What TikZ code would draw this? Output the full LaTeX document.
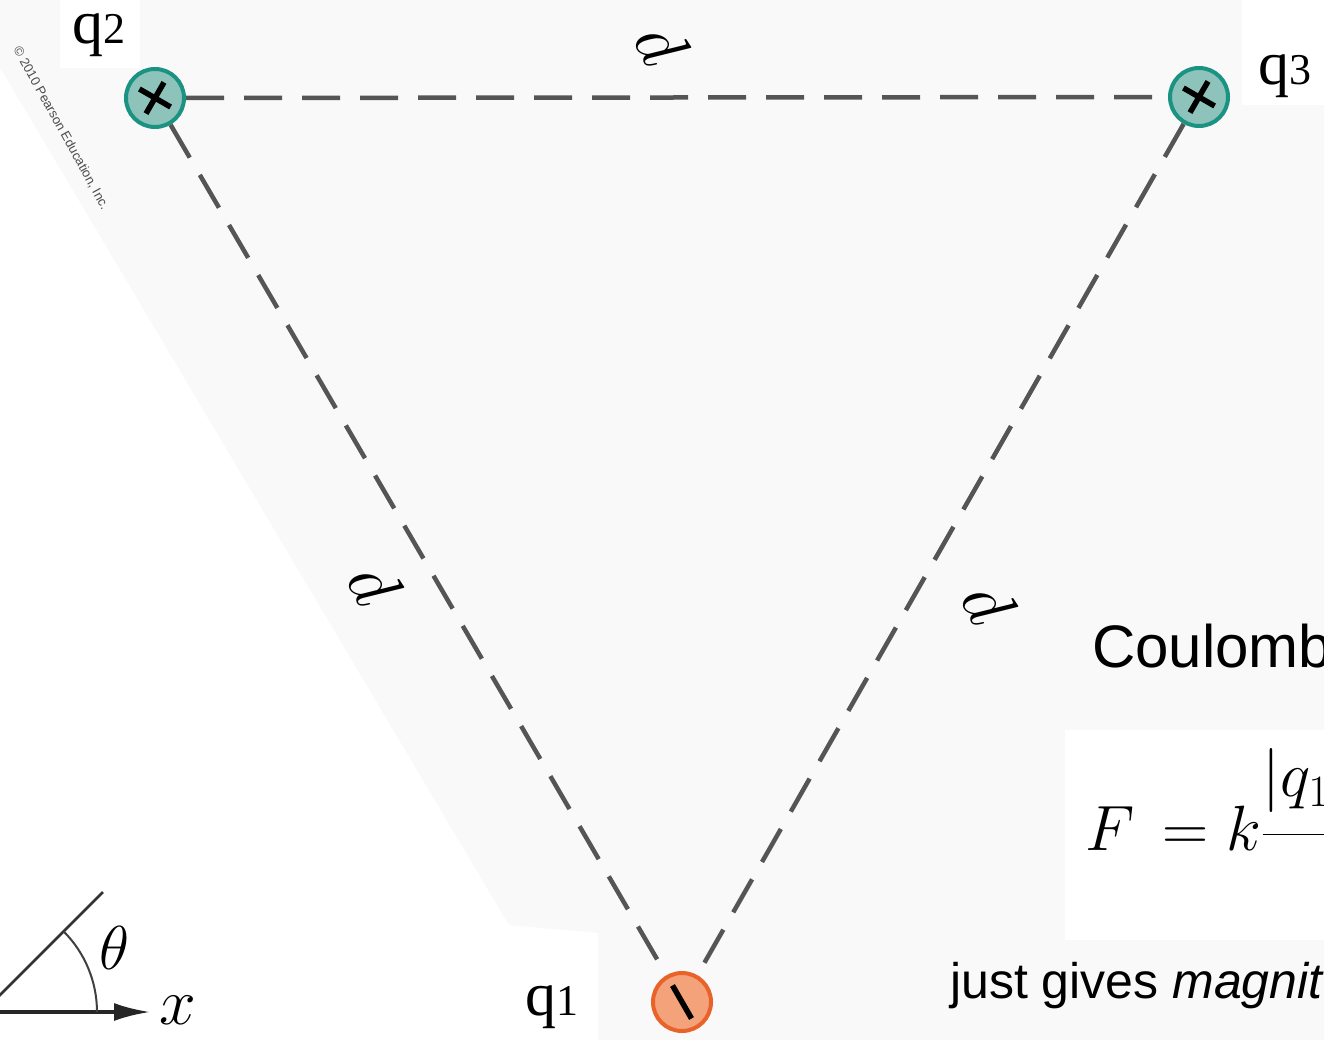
\RequirePackage{fix-cm}
\documentclass[tikz,border=0pt]{standalone}
\usepackage{amsmath}
\usepackage{fontspec}
\newfontfamily\serifq{Liberation Serif}
\newfontfamily\sansa{Liberation Sans}
\usetikzlibrary{arrows.meta,calc}
\definecolor{tealfill}{HTML}{8EC3BB}
\definecolor{tealedge}{HTML}{1B9383}
\definecolor{orfill}{HTML}{F3A27A}
\definecolor{oredge}{HTML}{E8622A}
\definecolor{dashgrey}{HTML}{555555}
\definecolor{bggrey}{HTML}{F9F9F9}
\begin{document}
\begin{tikzpicture}[x=1pt,y=-1pt,
  poscharge/.style={circle, draw=tealedge, fill=tealfill, line width=4pt, minimum size=58pt, inner sep=0pt},
  negcharge/.style={circle, draw=oredge, fill=orfill, line width=4pt, minimum size=58pt, inner sep=0pt},
  dashline/.style={draw=dashgrey, line width=4.5pt, dash pattern=on 38pt off 20pt},
  qlabel/.style={font=\serifq\fontsize{62}{62}\selectfont, inner sep=0pt, anchor=base west},
  dlabel/.style={font=\fontsize{70}{70}\selectfont, rotate=-62, inner sep=0pt},
  signstroke/.style={line width=5.5pt, black},
  sidetext/.style={inner sep=0pt, anchor=base west}]
\useasboundingbox (0,0) rectangle (1324,1040);
\clip (0,0) rectangle (1324,1040);
% background
\fill[white] (0,0) rectangle (1324,1040);
\fill[bggrey] (-40,0) -- (1324,0) -- (1324,1040) -- (598,1040) -- (598,933) -- (509,925) -- cycle;
\fill[white] (60,0) rectangle (140,68);
\fill[white] (1242,0) rectangle (1324,105);
\fill[white] (1065,730) rectangle (1324,940);
% charges
\node[poscharge] (q2) at (155,98) {};
\node[poscharge] (q3) at (1199,97) {};
\node[negcharge] (q1) at (682,1002) {};
% dashed sides
\draw[dashline] (q2) -- (q3);
\draw[dashline] (q2) -- (q1);
\draw[dashline] (q3) -- (q1);
% signs
\draw[signstroke] ($(q2)+(-15.6,-9)$) -- ($(q2)+(15.6,9)$);
\draw[signstroke] ($(q2)+(-9,15.6)$) -- ($(q2)+(9,-15.6)$);
\draw[signstroke] ($(q3)+(-15.6,-9)$) -- ($(q3)+(15.6,9)$);
\draw[signstroke] ($(q3)+(-9,15.6)$) -- ($(q3)+(9,-15.6)$);
\draw[signstroke] ($(q1)+(-9.5,-16.5)$) -- ($(q1)+(9.5,16.5)$);
% labels
\node[qlabel] (l2) at (72,44) {q\fontsize{44}{44}\selectfont 2};
\node[qlabel] (l3) at (1258,85) {q\fontsize{44}{44}\selectfont 3};
\node[qlabel] (l1) at (525,1015) {q\fontsize{44}{44}\selectfont 1};
\node[dlabel] (d23) at (662,44) {$d$};
\node[dlabel] (d12) at (375,584) {$d$};
\node[dlabel] (d13) at (989,603) {$d$};
% copyright
\node[font=\sansa\fontsize{13}{13}\selectfont, text=black!70, rotate=-61, inner sep=0pt] (copy) at (61,128) {\textcopyright{} 2010 Pearson Education, Inc.};
% angle sketch
\coordinate (o) at (-17,1012);
\coordinate (xend) at (150,1012);
\coordinate (ray) at (103,892);
\draw[line width=3.5pt, black!85, -{Latex[length=36pt,width=18pt]}] (o) -- (xend);
\draw[line width=2.5pt, black!80] (o) -- (ray);
\draw[line width=2pt, black!75] (97,1012) arc[start angle=0, end angle=-45, radius=114];
\node[font=\fontsize{62}{62}\selectfont, inner sep=0pt] (th) at (114,948) {$\theta$};
\node[font=\fontsize{66}{66}\selectfont, inner sep=0pt] (xl) at (178,1010) {$x$};
% right-hand text
\node[sidetext, font=\sansa\fontsize{60}{60}\selectfont] (coul) at (1092,667) {Coulomb's law};
\node[sidetext, font=\fontsize{64}{64}\selectfont] (form) at (1085,850) {$F\mkern3mu = k\dfrac{\raisebox{10pt}{$\displaystyle|q_1||q_2|$}\mkern40mu}{\mkern40mu r^2}$};
\node[sidetext, font=\sansa\fontsize{50}{50}\selectfont] (just) at (950,998) {just gives \textit{magnitude}};
\end{tikzpicture}
\end{document}
